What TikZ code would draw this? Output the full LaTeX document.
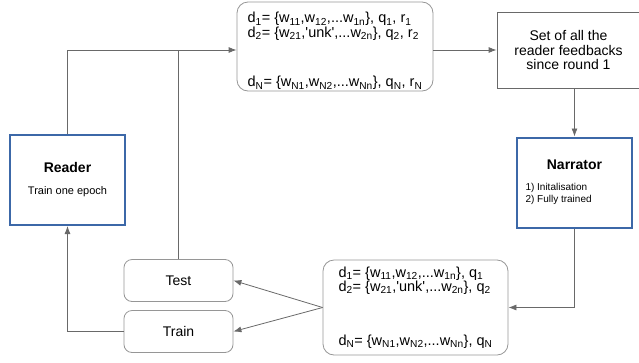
\documentclass[tikz,border=0pt]{standalone}
\usepackage{fontspec}
\setmainfont{Liberation Sans}
\usetikzlibrary{arrows.meta}
\definecolor{boxblue}{RGB}{60,104,168}
\definecolor{linegray}{RGB}{105,105,105}
\definecolor{roundgray}{RGB}{150,150,150}
\newcommand{\sub}[1]{\textsubscript{#1}}
\newcommand{\unk}{\textquotesingle unk\textquotesingle}

\begin{document}
\begin{tikzpicture}[x=1pt,y=-1pt,
    main_box/.style={draw=boxblue,line width=2pt,fill=white,minimum width=115pt,minimum height=90pt,inner sep=0pt},
    plain_box/.style={draw=linegray,line width=0.8pt,minimum width=143pt,minimum height=76pt,align=center,font=\fontsize{14}{14.5}\selectfont},
    data_box/.style={draw=roundgray,line width=0.8pt,rounded corners=11pt,align=left,inner sep=0pt,font=\fontsize{14.5}{14.5}\selectfont},
    set_box/.style={draw=roundgray,line width=0.8pt,rounded corners=8pt,minimum width=109pt,minimum height=42pt,font=\fontsize{14}{16}\selectfont},
    link/.style={draw=linegray,line width=0.8pt},
    arr/.style={link,-{Latex[length=8pt,width=6pt]}}]

    \useasboundingbox (0,0) rectangle (639,362);

    \node[main_box,align=center] (reader) at (67.5,180)
        {{\fontsize{14}{16}\selectfont\bfseries Reader}\\[10pt]{\fontsize{11}{13}\selectfont Train one epoch}};
    \node[main_box,align=center] (narrator) at (574.5,182.5)
        {{\fontsize{14}{16}\selectfont\bfseries Narrator}\\[9pt]
         {\fontsize{10}{10}\selectfont\makebox[98pt][l]{1) Initalisation}}\\
         {\fontsize{10}{10}\selectfont\makebox[98pt][l]{2) Fully trained}}};

    % strut on the first line pushes the list down a little
    \node[data_box,minimum width=196pt,minimum height=89pt] (data1) at (335,46.5)
        {\rule{0pt}{20pt}d\sub{1}= \{w\sub{11},w\sub{12},...w\sub{1n}\}, q\sub{1}, r\sub{1}\\
         d\sub{2}= \{w\sub{21},\unk,...w\sub{2n}\}, q\sub{2}, r\sub{2}\\[35pt]
         d\sub{N}= \{w\sub{N1},w\sub{N2},...w\sub{Nn}\}, q\sub{N}, r\sub{N}};
    \node[data_box,minimum width=185pt,minimum height=95pt] (data2) at (415.5,307.5)
        {d\sub{1}= \{w\sub{11},w\sub{12},...w\sub{1n}\}, q\sub{1}\\
         d\sub{2}= \{w\sub{21},\unk,...w\sub{2n}\}, q\sub{2}\\[39pt]
         d\sub{N}= \{w\sub{N1},w\sub{N2},...w\sub{Nn}\}, q\sub{N}};

    \node[plain_box] (feedback) at (568.5,50)
        {Set of all the\\reader feedbacks\\since round 1};

    \node[set_box] (test) at (178.5,280.5) {Test};
    \node[set_box] (train) at (178.5,331.5) {Train};

    \coordinate (feed_in) at (data1.west |- 0,50);

    \draw[arr] (reader.north) |- (feed_in);
    \draw[link] (test.north) -- (test.north |- feed_in);
    \draw[arr] (data1.east |- feedback.west) -- (feedback.west);
    \draw[arr] (narrator.north |- feedback.south) -- (narrator.north);
    \draw[arr] (narrator.south) |- (data2.east);
    \draw[arr] (data2.west) -- (test.east);
    \draw[arr] (data2.west) -- (train.east);
    \draw[arr] (train.west) -| (reader.south);
\end{tikzpicture}
\end{document}
